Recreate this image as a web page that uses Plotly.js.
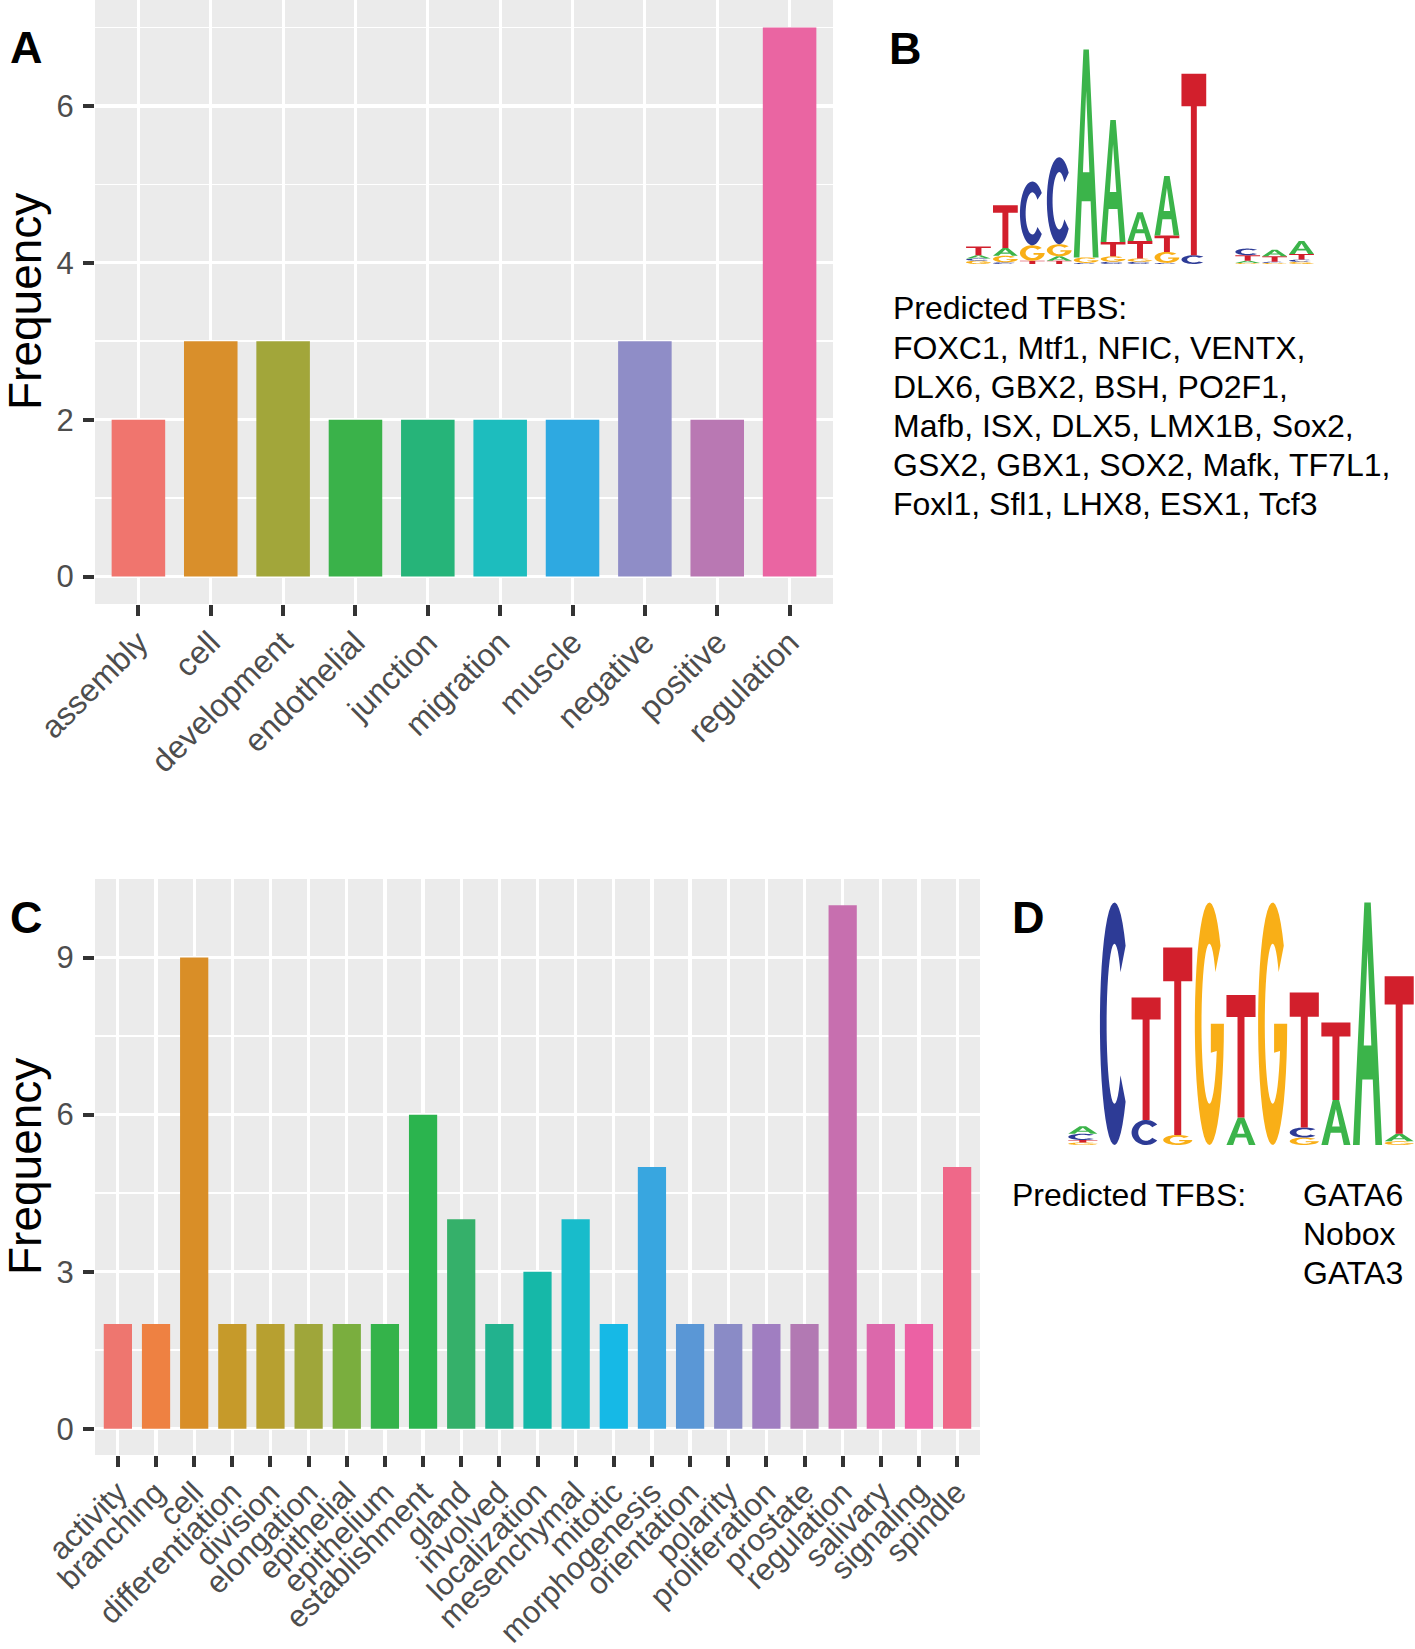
<!DOCTYPE html>
<html>
<head>
<meta charset="utf-8">
<script src="https://cdn.plot.ly/plotly-3.0.1.min.js"></script>
<style>
  html, body { margin: 0; padding: 0; background: #ffffff; }
  #chart { width: 1415px; height: 1649px; }
</style>
</head>
<body>
<div id="chart"></div>
<script>
// ---------------- DATA ----------------
const catsA = ['assembly','cell','development','endothelial','junction','migration','muscle','negative','positive','regulation'];
const valsA = [2, 3, 3, 2, 2, 2, 2, 3, 2, 7];
const colorsA = ['#F0756E','#D98F2B','#A2A63A','#3AB24A','#26B479','#1DBDBE','#2EA9E1','#8F8DC7','#B978B3','#EA65A2'];
const yTicksA = [0, 2, 4, 6];

const catsC = ['activity','branching','cell','differentiation','division','elongation','epithelial','epithelium','establishment','gland','involved','localization','mesenchymal','mitotic','morphogenesis','orientation','polarity','proliferation','prostate','regulation','salivary','signaling','spindle'];
const valsC = [2, 2, 9, 2, 2, 2, 2, 2, 6, 4, 2, 3, 4, 2, 5, 2, 2, 2, 2, 10, 2, 2, 5];
const colorsC = ['#EE766F','#EE8142','#D98E27','#C69A2A','#B7A030','#9FA63A','#7AAE3E','#34B34A','#2BB44E','#35B06A','#22B28E','#16B8A8','#18BCCB','#16B9E6','#38A6E0','#5A97D6','#8A8BC6','#A07EC1','#B279B3','#C76FAF','#DC68AB','#EC61A4','#EF6889'];
const yTicksC = [0, 3, 6, 9];

// Sequence logo B: letters per position (bottom -> top) and their heights (bits)
const logoBLetters = [
  ['G','C','A','T'], ['C','G','A','T'], ['T','G','C'], ['T','A','G','C'], ['C','G','A'],
  ['C','G','T','A'], ['C','G','T','A'], ['C','G','T','A'], ['C','T'], [],
  ['G','A','T','C'], ['G','C','T','A'], ['G','C','T','A']
];
const logoBHeights = [
  [0.03,0.02,0.03,0.08], [0.015,0.06,0.07,0.39], [0.03,0.14,0.58], [0.03,0.04,0.11,0.79], [0.01,0.05,1.89],
  [0.02,0.05,0.13,1.11], [0.02,0.03,0.16,0.26], [0.01,0.10,0.15,0.54], [0.08,1.65], [],
  [0.01,0.02,0.05,0.06], [0.01,0.01,0.05,0.06], [0.02,0.02,0.05,0.12]
];

// Sequence logo D
const logoDLetters = [
  ['G','T','C','A'], ['C'], ['C','T'], ['G','T'], ['G'], ['A','T'], ['G'], ['G','C','T'], ['A','T'], ['A'], ['G','A','T']
];
const logoDHeights = [
  [0.02,0.02,0.05,0.06], [1.94], [0.20,0.98], [0.08,1.50], [1.94], [0.22,0.98], [1.94], [0.06,0.08,1.08], [0.36,0.62], [1.94], [0.03,0.06,1.26]
];

const letterColors = { A: '#3BB44A', C: '#2D3B96', G: '#F9AF17', T: '#D21F2C' };

const tfbsBTitle = 'Predicted TFBS:';
const tfbsBLines = ['FOXC1, Mtf1, NFIC, VENTX,', 'DLX6, GBX2, BSH, PO2F1,', 'Mafb, ISX, DLX5, LMX1B, Sox2,', 'GSX2, GBX1, SOX2, Mafk, TF7L1,', 'Foxl1, Sfl1, LHX8, ESX1, Tcf3'];
const tfbsDTitle = 'Predicted TFBS:';
const tfbsDLines = ['GATA6', 'Nobox', 'GATA3'];
const panelLabels = ['A', 'B', 'C', 'D'];
const yTitle = 'Frequency';

// ---------------- LAYOUT HELPERS ----------------
const W = 1415, H = 1649;
const FONT = 'Liberation Sans, Arial, Helvetica, sans-serif';
const px = v => v / W;
const py = v => 1 - v / H;

// glyph outlines in unit box (u: 0..1 left->right, v: 0..1 bottom->top)
function ellipsePts(rx, ry, a0, a1, step) {
  const pts = [];
  const n = Math.max(2, Math.round(Math.abs(a1 - a0) / step));
  for (let i = 0; i <= n; i++) {
    const a = (a0 + (a1 - a0) * i / n) * Math.PI / 180;
    pts.push([0.5 + rx * Math.cos(a), 0.5 + ry * Math.sin(a)]);
  }
  return pts;
}
function glyph(letter) {
  if (letter === 'T') {
    return [[[0,1],[1,1],[1,0.82],[0.62,0.82],[0.62,0],[0.38,0],[0.38,0.82],[0,0.82]]];
  }
  if (letter === 'A') {
    return [
      [[0,0],[0.39,1],[0.61,1],[1,0],[0.77,0],[0.68,0.27],[0.32,0.27],[0.23,0]],
      [[0.37,0.41],[0.63,0.41],[0.5,0.8]]
    ];
  }
  if (letter === 'C') {
    return [ellipsePts(0.5, 0.5, 40, 320, 8).concat(ellipsePts(0.27, 0.33, 320, 40, 8))];
  }
  // G
  const outer = ellipsePts(0.5, 0.5, 40, 360, 8);
  const bar = [[0.55,0.5],[0.55,0.38]];
  const inner = ellipsePts(0.27, 0.33, 340, 40, 8);
  return [outer.concat(bar).concat(inner)];
}
function letterPath(letter, xc, w, y0, h) {
  return glyph(letter).map(poly =>
    'M' + poly.map(p => (xc - w / 2 + p[0] * w).toFixed(4) + ',' + (y0 + p[1] * h).toFixed(5)).join('L') + 'Z'
  ).join(' ');
}
function logoShapes(letters, heights, xref, yref) {
  const shapes = [];
  letters.forEach((col, i) => {
    let y = 0;
    col.forEach((L, j) => {
      const h = heights[i][j];
      shapes.push({
        type: 'path', xref: xref, yref: yref,
        path: letterPath(L, i + 1, 0.92, y, h),
        fillcolor: letterColors[L], line: { width: 0 }, layer: 'above'
      });
      y += h;
    });
  });
  return shapes;
}

// ---------------- TRACES ----------------
const traces = [
  { type: 'bar', x: catsA, y: valsA, marker: { color: colorsA, line: { width: 0 } }, xaxis: 'x', yaxis: 'y', hoverinfo: 'skip' },
  { type: 'bar', x: catsC, y: valsC, marker: { color: colorsC, line: { width: 0 } }, xaxis: 'x2', yaxis: 'y2', hoverinfo: 'skip' },
  { type: 'scatter', x: [], y: [], xaxis: 'x3', yaxis: 'y3', showlegend: false },
  { type: 'scatter', x: [], y: [], xaxis: 'x4', yaxis: 'y4', showlegend: false }
];

const commonX = {
  type: 'category', showgrid: true, gridcolor: '#FFFFFF', gridwidth: 3.2, zeroline: false, showline: false,
  ticks: 'outside', ticklen: 11, tickwidth: 4, tickcolor: '#333333', tickangle: -45, ticklabelstandoff: -5,
  tickfont: { family: FONT, size: 32, color: '#4D4D4D' }, automargin: false, fixedrange: true
};
const commonY = {
  showgrid: true, gridcolor: '#FFFFFF', gridwidth: 3.2, zeroline: false, showline: false,
  ticks: 'outside', ticklen: 11, tickwidth: 4, tickcolor: '#333333', ticklabelstandoff: 3,
  tickfont: { family: FONT, size: 31, color: '#4D4D4D' }, automargin: false, fixedrange: true
};

const annotations = [];
function addText(text, x, y, opts) {
  annotations.push(Object.assign({
    text: text, x: px(x), y: py(y), xref: 'paper', yref: 'paper', showarrow: false,
    xanchor: 'left', yanchor: 'middle', font: { family: FONT, size: 32, color: '#000000' }
  }, opts || {}));
}
// panel letters
const labelPos = [[26, 47], [906, 48], [26, 917], [1028, 917]];
panelLabels.forEach((L, i) => addText('<b>' + L + '</b>', labelPos[i][0], labelPos[i][1],
  { xanchor: 'center', font: { family: FONT, size: 45, color: '#000000' } }));
// y axis titles
[[25, 302], [25, 1167]].forEach(p => addText(yTitle, p[0], p[1],
  { xanchor: 'center', textangle: -90, font: { family: FONT, size: 46, color: '#000000' } }));
// TFBS text B
addText(tfbsBTitle, 891, 308);
tfbsBLines.forEach((t, i) => addText(t, 891, 347.5 + i * 39.1));
// TFBS text D
addText(tfbsDTitle, 1010, 1195);
tfbsDLines.forEach((t, i) => addText(t, 1301, 1195 + i * 39));

const shapes = [
  { type: 'rect', xref: 'x domain', yref: 'y domain', x0: 0, x1: 1, y0: 0, y1: 1, fillcolor: '#EBEBEB', line: { width: 0 }, layer: 'below' },
  { type: 'rect', xref: 'x2 domain', yref: 'y2 domain', x0: 0, x1: 1, y0: 0, y1: 1, fillcolor: '#EBEBEB', line: { width: 0 }, layer: 'below' }
].concat(logoShapes(logoBLetters, logoBHeights, 'x3', 'y3'))
 .concat(logoShapes(logoDLetters, logoDHeights, 'x4', 'y4'));

const layout = {
  width: W, height: H, autosize: false,
  margin: { l: 0, r: 0, t: 0, b: 0, pad: 0 },
  paper_bgcolor: '#FFFFFF', plot_bgcolor: 'rgba(0,0,0,0)',
  showlegend: false, bargap: 0.26, hovermode: false,
  font: { family: FONT },
  xaxis: Object.assign({}, commonX, { domain: [px(95), px(833)], anchor: 'y', range: [-0.6, 9.6] }),
  yaxis: Object.assign({}, commonY, {
    domain: [py(604), 1], anchor: 'x', range: [-0.35, 7.35], tickvals: yTicksA,
    minor: { dtick: 1, tick0: 0, showgrid: true, gridcolor: '#FFFFFF', gridwidth: 1.6, ticks: '' }
  }),
  xaxis2: Object.assign({}, commonX, {
    domain: [px(95), px(980)], anchor: 'y2', range: [-0.6, 22.6],
    tickfont: { family: FONT, size: 31, color: '#4D4D4D' }
  }),
  yaxis2: Object.assign({}, commonY, {
    domain: [py(1455), py(879)], anchor: 'x2', range: [-0.5, 10.5], tickvals: yTicksC,
    minor: { dtick: 1.5, tick0: 0, showgrid: true, gridcolor: '#FFFFFF', gridwidth: 1.6, ticks: '' }
  }),
  xaxis3: { domain: [px(965), px(1315)], anchor: 'y3', range: [0.5, 13.5], visible: false, fixedrange: true },
  yaxis3: { domain: [py(264), py(44)], anchor: 'x3', range: [0, 2], visible: false, fixedrange: true },
  xaxis4: { domain: [px(1067), 1], anchor: 'y4', range: [0.5, 11.5], visible: false, fixedrange: true },
  yaxis4: { domain: [py(1145), py(895)], anchor: 'x4', range: [0, 2], visible: false, fixedrange: true },
  shapes: shapes,
  annotations: annotations
};

Plotly.newPlot('chart', traces, layout, { staticPlot: true, displayModeBar: false });
</script>
</body>
</html>
